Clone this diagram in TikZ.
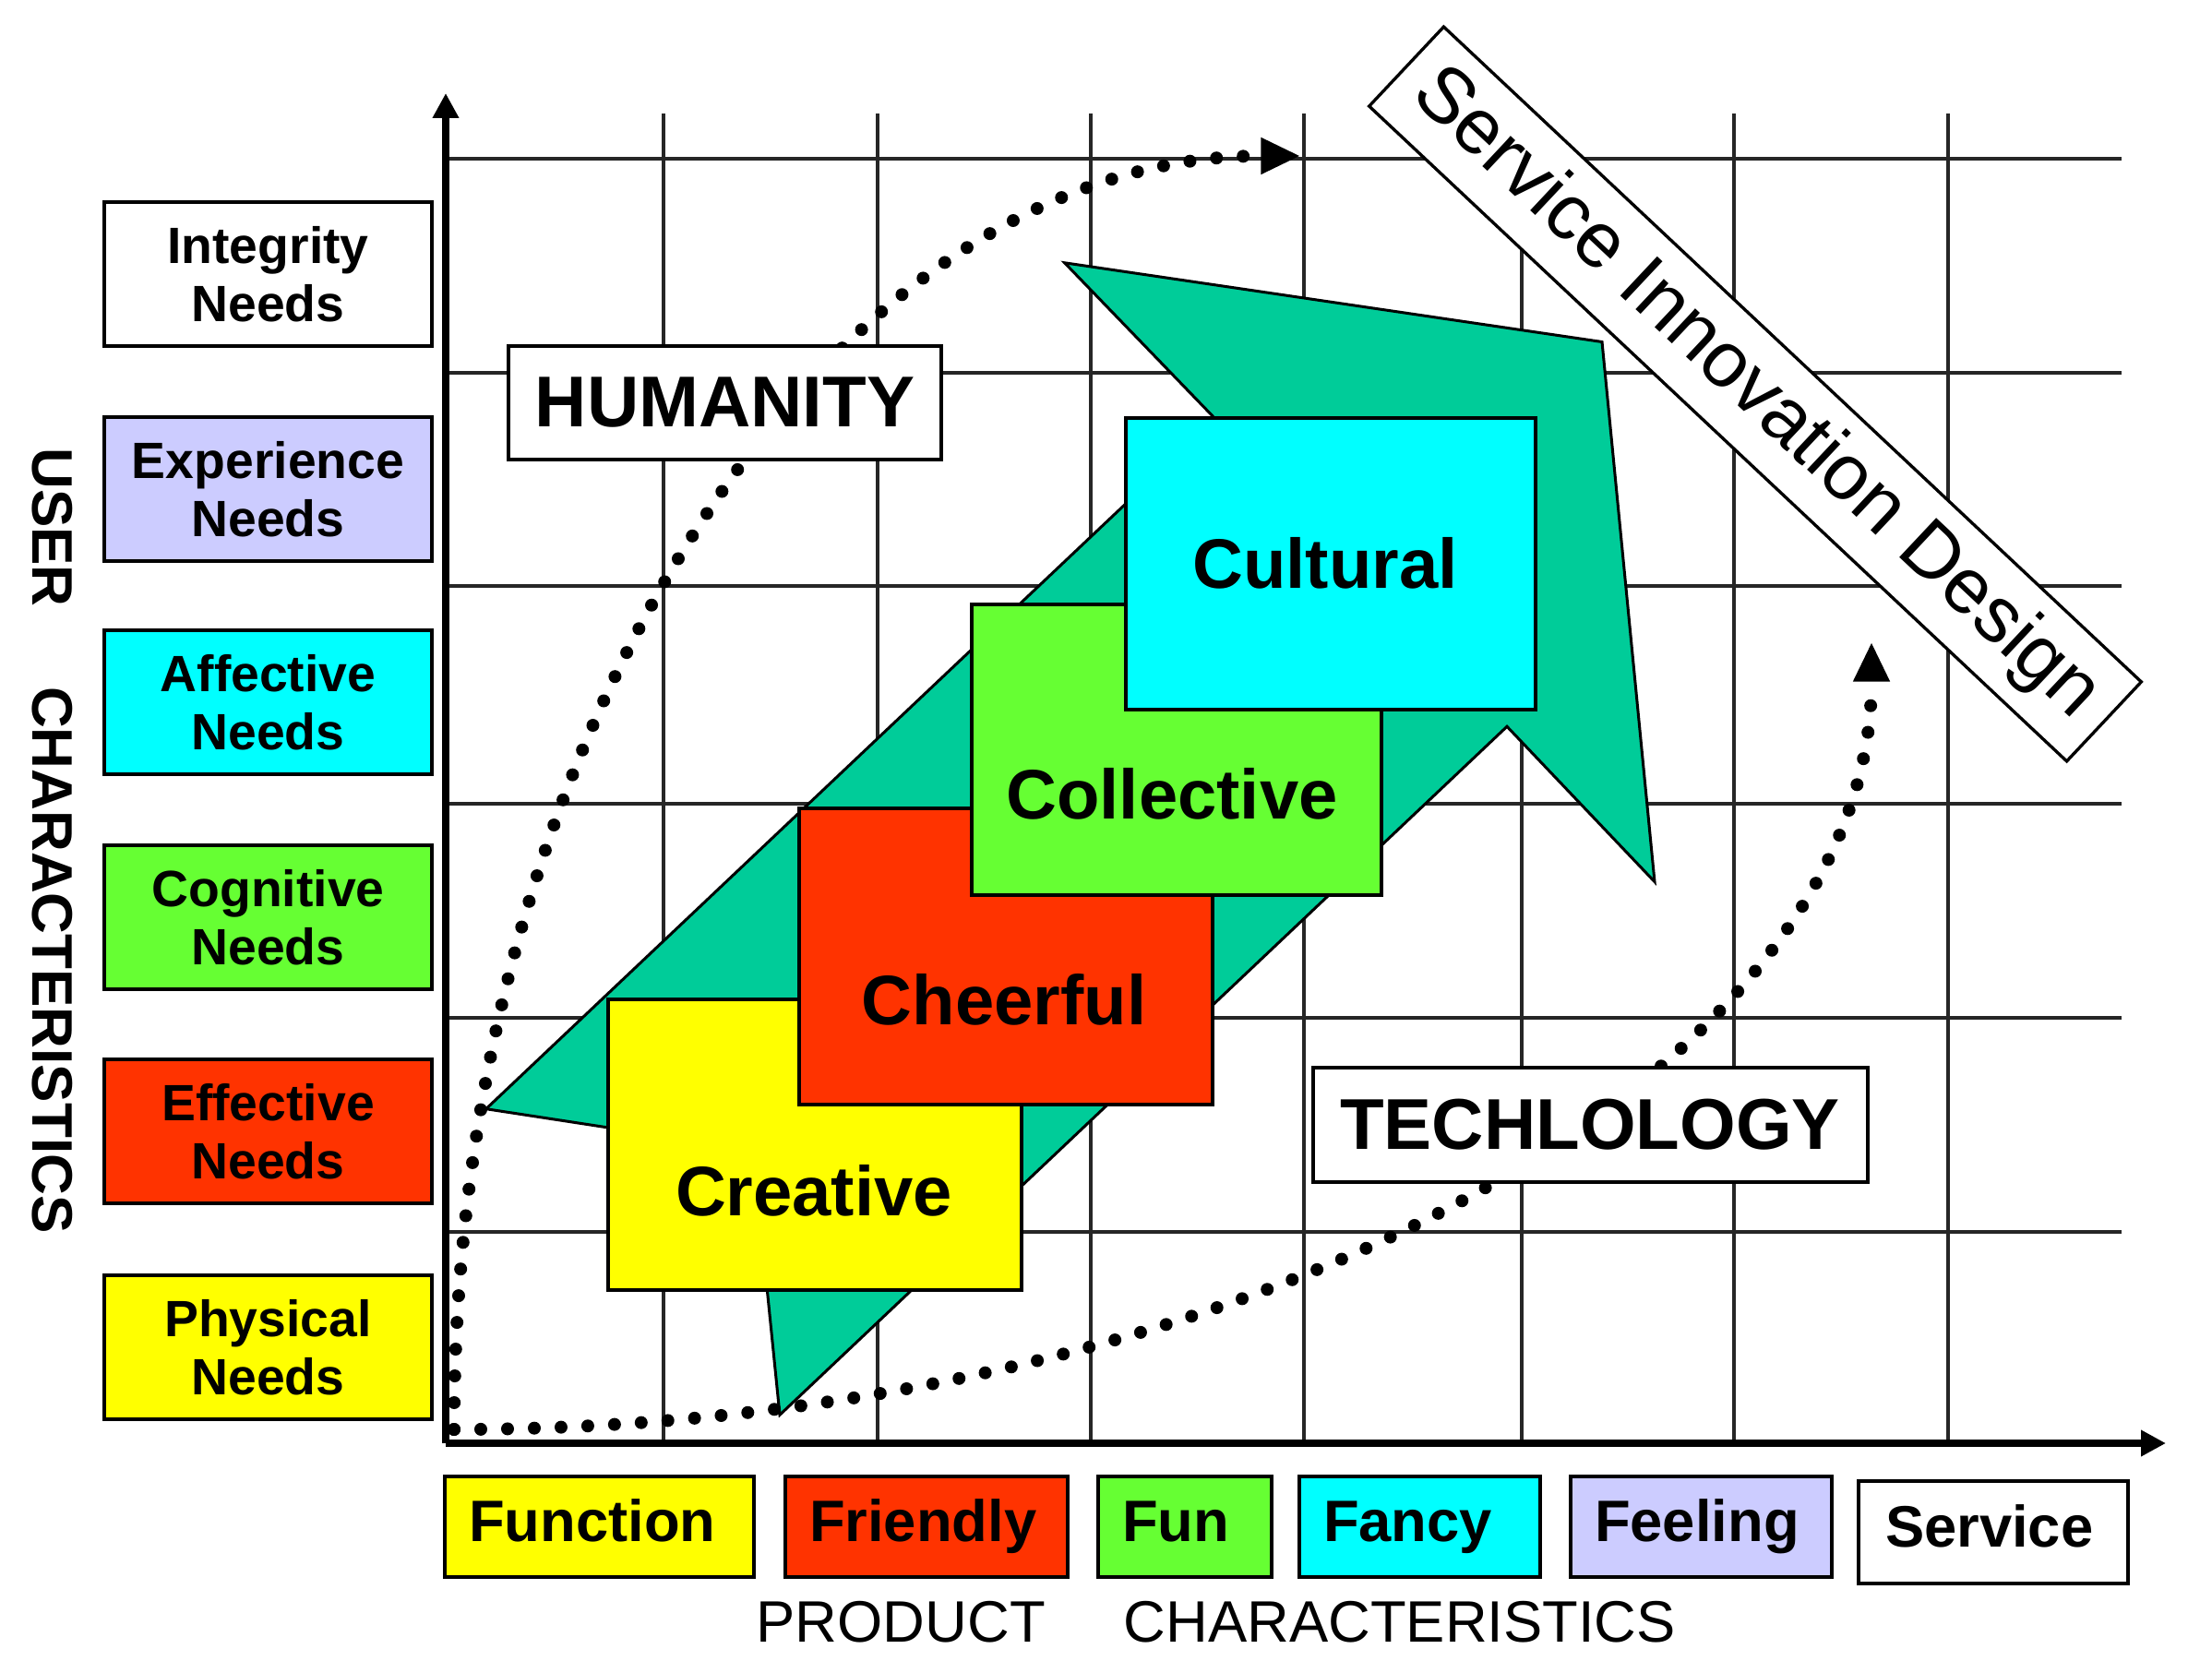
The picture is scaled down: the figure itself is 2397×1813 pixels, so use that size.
\documentclass[tikz,border=0pt]{standalone}
\usepackage{fontspec}
\setmainfont{Liberation Sans}
\usetikzlibrary{arrows.meta}
\newcommand{\pxu}{0.3pt}
\definecolor{cYellow}{HTML}{FFFF00}
\definecolor{cRed}{HTML}{FF3300}
\definecolor{cGreen}{HTML}{66FF33}
\definecolor{cCyan}{HTML}{00FFFF}
\definecolor{cLav}{HTML}{CCCCFF}
\definecolor{cArrow}{HTML}{00CC99}
\begin{document}
\begin{tikzpicture}[x=0.3pt,y=-0.3pt,
  gridline/.style={line width=1.2pt, black!85},
  axisline/.style={line width=2.2pt, -{Triangle[length=8.1pt,width=8.1pt]}},
  needbox/.style={draw, line width=1.2pt, minimum width=355*\pxu, minimum height=156*\pxu, align=center, inner sep=0pt, font=\fontsize{16.6}{19}\selectfont\bfseries},
  prodbox/.style={draw, line width=1.2pt, minimum height=109*\pxu, inner xsep=7.8pt, inner ysep=0pt, align=left, text height=13.7pt, text depth=4pt, font=\fontsize{19}{22}\selectfont\bfseries},
  stackbox/.style={draw, line width=1.2pt, inner sep=0pt},
  stacktext/.style={anchor=base, inner sep=0pt, font=\fontsize{22.8}{26}\selectfont\bfseries},
  labelbox/.style={draw, fill=white, line width=1.2pt, inner sep=0pt, font=\fontsize{23.4}{27}\selectfont\bfseries},
  arrowshape/.style={fill=cArrow, draw=black, line width=0.9pt, line join=miter},
  dotcurve/.style={line width=4.2pt, dash pattern=on 0pt off 8.7pt, line cap=round, -{Triangle[length=12.5pt,width=12pt,line width=0.5pt]}},
]
\useasboundingbox (0,0) rectangle (2397,1813);
\fill[white] (0,0) rectangle (2397,1813);

% grid
\foreach \gx in {719,951,1182,1413,1649,1879,2111} \draw[gridline] (\gx,123) -- (\gx,1564);
\foreach \gy in {172,404,635,871,1103,1335} \draw[gridline] (483,\gy) -- (2299,\gy);

% axes
\coordinate (O) at (483,1564);
\coordinate (ytip) at (483,101);
\coordinate (xtip) at (2347,1564);
\draw[axisline] (O) -- (ytip);
\draw[axisline] (O) -- (xtip);

% big green arrow
\draw[arrowshape] (526.7,1201.7) -- (1317,454) -- (1153.6,284.8) -- (1736,370.5) -- (1793,955.6) -- (1633,787.3) -- (845,1533.3) -- (816,1246) -- cycle;

% stacked boxes
\node[stackbox, fill=cYellow, minimum width=448*\pxu, minimum height=315*\pxu] (creative) at (883,1240.5) {};
\node[stacktext] (creativeT) at (882,1317) {Creative};
\node[stackbox, fill=cRed, minimum width=448*\pxu, minimum height=321*\pxu] (cheerful) at (1090,1036.5) {};
\node[stacktext] (cheerfulT) at (1088,1110) {Cheerful};
\node[stackbox, fill=cGreen, minimum width=444*\pxu, minimum height=315*\pxu] (collective) at (1275,812.5) {};
\node[stacktext] (collectiveT) at (1270,888) {Collective};
\node[stackbox, fill=cCyan, minimum width=444*\pxu, minimum height=316*\pxu] (cultural) at (1442.3,610.8) {};
\node[stacktext] (culturalT) at (1436,638) {Cultural};

% dotted curves
\coordinate (start) at (492,1549);
\coordinate (humEnd) at (1408,169);
\coordinate (techEnd) at (2028,697);
\draw[dotcurve] (start) .. controls (492,786.8) and (902,169) .. (humEnd);
\draw[dotcurve] (start) .. controls (1340,1549) and (2028,1167.6) .. (techEnd);

% label boxes
\node[labelbox, minimum width=469*\pxu, minimum height=123*\pxu] (humanity) at (785.5,436.5) {HUMANITY};
\node[labelbox, minimum width=601*\pxu, minimum height=124*\pxu] (techlology) at (1723,1219) {TECHLOLOGY};

\node[draw, fill=white, line width=1pt, rotate=-43.2, minimum width=1037*\pxu, minimum height=118*\pxu, inner sep=0pt, font=\fontsize{25.5}{30}\selectfont] (sid) at (1902,427) {Service Innovation Design};

% user needs
\node[needbox, fill=white] (integrity) at (290.5,297) {Integrity\\Needs};
\node[needbox, fill=cLav] (experience) at (290.5,530.5) {Experience\\Needs};
\node[needbox, fill=cCyan] (affective) at (290.5,761) {Affective\\Needs};
\node[needbox, fill=cGreen] (cognitive) at (290.5,994) {Cognitive\\Needs};
\node[needbox, fill=cRed] (effective) at (290.5,1226) {Effective\\Needs};
\node[needbox, fill=cYellow] (physical) at (290.5,1460) {Physical\\Needs};

% product characteristics
\node[prodbox, fill=cYellow, text width=84.9pt] (function) at (649.5,1654.5) {Function};
\node[prodbox, fill=cRed, text width=76.2pt] (friendly) at (1004,1654.5) {Friendly};
\node[prodbox, fill=cGreen, text width=40.8pt] (fun) at (1284,1654.5) {Fun};
\node[prodbox, fill=cCyan, text width=62.7pt] (fancy) at (1538.5,1654.5) {Fancy};
\node[prodbox, fill=cLav, text width=69.3pt] (feeling) at (1843.5,1654.5) {Feeling};
\node[prodbox, fill=white, text width=70.2pt, inner xsep=8.7pt, minimum height=111*\pxu] (service) at (2160,1660) {Service};

% axis titles
\node[rotate=-90, inner sep=0pt, font=\fontsize{18.6}{22}\selectfont\bfseries] (userchar) at (57,911) {USER\hspace{26pt}CHARACTERISTICS};
\node[anchor=base west, inner sep=0pt, font=\fontsize{19}{22}\selectfont] (prodchar) at (819,1779) {PRODUCT\hspace{25.5pt}CHARACTERISTICS};
\end{tikzpicture}
\end{document}
